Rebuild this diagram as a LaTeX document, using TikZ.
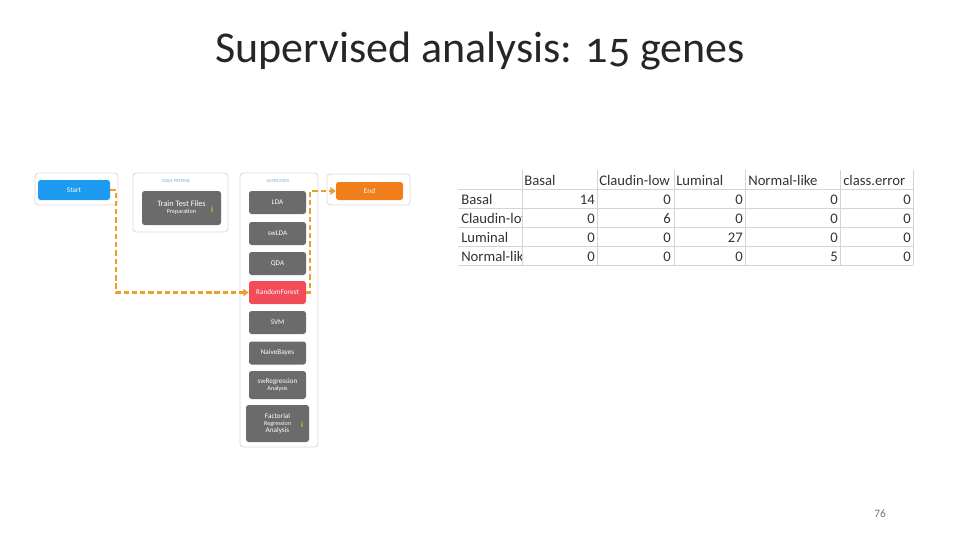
\documentclass[tikz,border=0pt]{standalone}
\usepackage{fontspec}
\setmainfont{Carlito}
\usetikzlibrary{arrows.meta}
\definecolor{startblue}{HTML}{1E9BF0}
\definecolor{endorange}{HTML}{F07E1A}
\definecolor{rfred}{HTML}{F04C5A}
\definecolor{btngray}{HTML}{6B6B6B}
\definecolor{flowor}{HTML}{E8A02C}
\definecolor{panelline}{HTML}{DADADA}
\definecolor{paneltext}{HTML}{7FAFD6}
\definecolor{gridc}{HTML}{D4D4D4}
\definecolor{iconyel}{HTML}{D8CC3C}
\begin{document}
\begin{tikzpicture}[x=0.75pt,y=-0.75pt,
  panel/.style={draw=panelline,line width=0.6pt,rounded corners=2.5pt,fill=white,inner sep=0pt},
  btn/.style={rounded corners=2pt,fill=btngray,text=white,inner sep=0pt,align=center,
     font=\fontsize{5.4}{6.2}\selectfont,minimum width=42.75pt,minimum height=17.25pt},
  plabel/.style={text=paneltext,font=\fontsize{3.4}{4}\selectfont,inner sep=0pt},
  flow/.style={draw=flowor,line width=2.2pt,dash pattern=on 4pt off 2.2pt,
     -{Triangle[length=4pt,width=5.5pt,fill=flowor]}},
  icon/.style={text=iconyel,font=\fontsize{6}{6}\bfseries\selectfont,inner sep=0pt},
  cell/.style={font=\fontsize{11}{12}\selectfont,text=black!80,inner sep=0pt,anchor=base east},
  hcell/.style={font=\fontsize{11}{12}\selectfont,text=black!80,inner sep=0pt,anchor=base west}]
\useasboundingbox (0,0) rectangle (960,540);
% title
\node[font=\fontsize{33}{38}\selectfont\addfontfeatures{Numbers=OldStyle},text=black!85,anchor=base] (title) at (480,62) {Supervised analysis: 15 genes};
% panels
\node[panel,minimum width=62.25pt,minimum height=24pt] (pstart) at (76.5,189) {};
\node[panel,minimum width=71.25pt,minimum height=44.25pt] (pprep) at (180.5,202.5) {};
\node[panel,minimum width=58.5pt,minimum height=205.5pt] (psup) at (279,310) {};
\node[panel,minimum width=62.25pt,minimum height=23.25pt] (pend) at (368.5,189.5) {};
\node[plabel] (lprep) at (176,181.5) {TABLE PREPARE};
\node[plabel] (lsup) at (278,181.5) {SUPERVISED};
% buttons
\node[btn,fill=startblue,minimum width=54pt,minimum height=15pt] (start) at (74,190) {Start};
\node[btn,fill=endorange,minimum width=50.25pt,minimum height=13.5pt] (end) at (369.5,191) {End};
\node[btn,minimum width=59.25pt,minimum height=25.5pt] (train) at (181.5,208)
  {{\fontsize{6.2}{7}\selectfont Train Test Files}\\[-1pt]{\fontsize{4.6}{5.5}\selectfont Preparation}};
\node[icon] (itrain) at (212,210) {i};
\node[btn] (lda) at (277.5,202.5) {LDA};
\node[btn] (swlda) at (277.5,233.5) {swLDA};
\node[btn] (qda) at (277.5,263.5) {QDA};
\node[btn,fill=rfred] (rf) at (277.5,292.5) {RandomForest};
\node[btn] (svm) at (277.5,322.5) {SVM};
\node[btn] (nb) at (277.5,353) {NaiveBayes};
\node[btn,minimum height=21pt] (swreg) at (277.5,385) {swRegression\\[-1pt]{\fontsize{4.6}{5.5}\selectfont Analysis}};
\node[btn,minimum width=47.25pt,minimum height=27.75pt] (fact) at (277.5,423.5)
  {Factorial\\[-1pt]{\fontsize{4.6}{5.5}\selectfont Regression}\\[-1pt]Analysis};
\node[icon] (ifact) at (302,425) {i};
% connectors
\coordinate (j1) at (116,190);
\coordinate (j2) at (310,292.5);
\draw[flow] (start.east) -- (j1) |- (rf.west);
\draw[flow] (rf.east) -- (j2) |- (end.west);
% table grid
\foreach \y in {189,208,227,246,265} \draw[gridc,line width=0.6pt] (458,\y) -- (913,\y);
\foreach \x in {522,597,674,745,840,913} \draw[gridc,line width=0.6pt] (\x,170) -- (\x,265);
% header row
\node[hcell] (hb) at (524,185) {Basal};
\node[hcell] (hc) at (599,185) {Claudin-low};
\node[hcell] (hl) at (676,185) {Luminal};
\node[hcell] (hn) at (748,185) {Normal-like};
\node[hcell] (he) at (843,185) {class.error};
% row headers (clipped to the first column)
\begin{scope}
\clip (455,189) rectangle (521,266);
\node[hcell] (r1) at (461,204) {Basal};
\node[hcell] (r2) at (461,223) {Claudin-low};
\node[hcell] (r3) at (461,242) {Luminal};
\node[hcell] (r4) at (461,261) {Normal-like};
\end{scope}
% data
\node[cell] (c11) at (595,204) {14};
\node[cell] (c12) at (671,204) {0};
\node[cell] (c13) at (743,204) {0};
\node[cell] (c14) at (838,204) {0};
\node[cell] (c15) at (911,204) {0};
\node[cell] (c21) at (595,223) {0};
\node[cell] (c22) at (671,223) {6};
\node[cell] (c23) at (743,223) {0};
\node[cell] (c24) at (838,223) {0};
\node[cell] (c25) at (911,223) {0};
\node[cell] (c31) at (595,242) {0};
\node[cell] (c32) at (671,242) {0};
\node[cell] (c33) at (743,242) {27};
\node[cell] (c34) at (838,242) {0};
\node[cell] (c35) at (911,242) {0};
\node[cell] (c41) at (595,261) {0};
\node[cell] (c42) at (671,261) {0};
\node[cell] (c43) at (743,261) {0};
\node[cell] (c44) at (838,261) {5};
\node[cell] (c45) at (911,261) {0};
% page number
\node[font=\fontsize{8.5}{10}\selectfont,text=black!55] (page) at (880,514) {76};
\end{tikzpicture}
\end{document}
